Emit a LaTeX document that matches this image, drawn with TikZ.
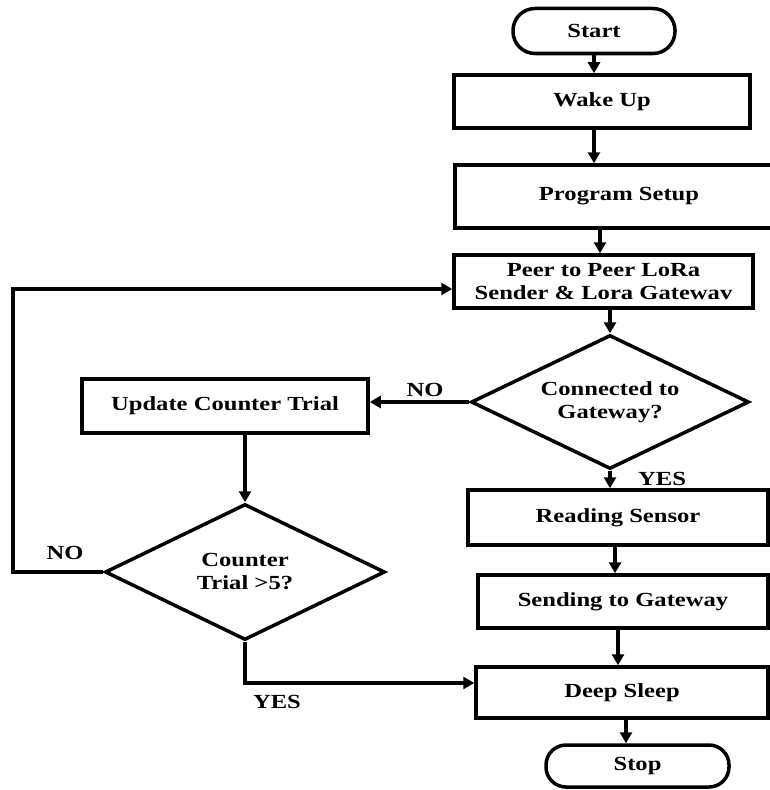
\documentclass[tikz,border=0pt]{standalone}
\usepackage{fontspec}
\setmainfont{Liberation Serif}[FakeStretch=1.23]
\usetikzlibrary{shapes.geometric,arrows.meta}
\begin{document}
\begin{tikzpicture}[x=1bp,y=-1bp,
  every node/.style={font=\bfseries\fontsize{20bp}{23bp}\selectfont, align=center, inner sep=0pt},
  box/.style={draw, line width=3.5bp, rectangle},
  term/.style={draw, line width=3.5bp, rectangle},
  dec/.style={draw, line width=3.5bp, diamond, aspect=2},
  arr/.style={line width=3.3bp, -{Triangle[length=11bp,width=12bp]}},
  lab/.style={inner sep=0pt}]
\useasboundingbox (0,0) rectangle (770,790);
\clip (0,0) rectangle (770,790);
% nodes
\node[term, rounded corners=22bp, minimum width=162bp, minimum height=45bp] (start) at (594,31) {Start};
\node[box, minimum width=296bp, minimum height=53bp] (wake) at (602,101.5) {Wake Up};
\node[box, minimum width=328bp, minimum height=63bp] (setup) at (619,196.5) {Program Setup};
\node[box, minimum width=299bp, minimum height=53bp] (peer) at (603.5,281.5) {Peer to Peer LoRa\\Sender \& Lora Gatewav};
\node[dec, minimum width=278bp, minimum height=134bp] (conn) at (610,402) {Connected to\\Gateway?};
\node[box, minimum width=286bp, minimum height=54bp] (update) at (225,406) {Update Counter Trial};
\node[dec, minimum width=280bp, minimum height=136bp] (count) at (245,572) {Counter\\Trial >5?};
\node[box, minimum width=300bp, minimum height=55bp] (read) at (618,517.5) {Reading Sensor};
\node[box, minimum width=290bp, minimum height=53bp] (send) at (623,601.5) {Sending to Gateway};
\node[box, minimum width=292bp, minimum height=51bp] (sleep) at (622,692.5) {Deep Sleep};
\node[term, rounded corners=20bp, minimum width=183bp, minimum height=42bp] (stop) at (637.5,766) {Stop};
% labels
\node[lab] (no1) at (425,390) {NO};
\node[lab] (yes1) at (662,479) {YES};
\node[lab] (no2) at (65,553) {NO};
\node[lab] (yes2) at (277,702) {YES};
% helper coordinates
\coordinate (c600) at (600,0);
\coordinate (c615) at (615,0);
\coordinate (c618) at (618,0);
\coordinate (c626) at (626,0);
\coordinate (loopA) at (13,572);
\coordinate (loopB) at (13,289);
\coordinate (yc) at (245,683);
% connectors
\draw[arr] (start.south) -- (start.south |- wake.north);
\draw[arr] (wake.south -| start.south) -- (setup.north -| start.south);
\draw[arr] (setup.south -| c600) -- (peer.north -| c600);
\draw[arr] (peer.south -| conn.north) -- (conn.north);
\draw[arr] (conn.west) -- (conn.west -| update.east);
\draw[arr] (conn.south) -- (conn.south |- read.north);
\draw[arr] (read.south -| c615) -- (send.north -| c615);
\draw[arr] (send.south -| c618) -- (sleep.north -| c618);
\draw[arr] (sleep.south -| c626) -- (stop.north -| c626);
\draw[arr] (update.south -| count.north) -- (count.north);
\draw[arr] (count.west) -- (loopA) -- (loopB) -- (loopB -| peer.west);
\draw[arr] (count.south) -- (yc) -- (yc -| sleep.west);
\end{tikzpicture}
\end{document}
